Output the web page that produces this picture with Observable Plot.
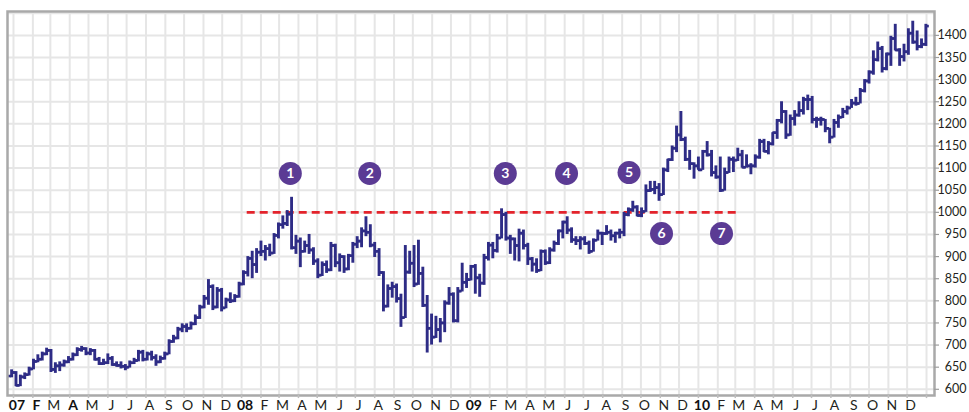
<!DOCTYPE html>
<html>
<head>
<meta charset="utf-8">
<script src="https://cdn.jsdelivr.net/npm/d3@7"></script>
<script src="https://cdn.jsdelivr.net/npm/@observablehq/plot@0.6"></script>
<style>
  html, body { margin: 0; padding: 0; background: #ffffff; }
  svg { display: block; }
</style>
</head>
<body>
<div id="chart"></div>
<script>
// ---- Data: weekly bars, week ending Friday, first week ending 2006-12-29 ----
const firstWeekEnding = "2006-12-29";

const open = [
  630,
  638,609,628,633,646,663,668,680,688,645,653,655,662,668,678,690,692,682,688,668,658,660,670,656,654,652,650,660,665,684,668,680,672,662,670,680,708,716,736,742,738,748,762,786,806,832,786,824,784,802,800,810,
  838,864,896,882,910,912,918,908,948,972,975,996,920,935,912,925,915,890,858,882,870,925,886,900,872,902,928,935,958,955,926,912,864,788,828,832,805,762,865,885,838,862,790,738,718,735,750,795,815,755,822,842,
  848,878,852,840,898,926,914,942,995,942,940,925,953,925,895,883,869,912,886,915,930,958,978,960,938,936,940,930,912,937,953,952,955,947,953,955,995,1006,1012,993,1002,1049,1052,1056,1040,1096,1119,1145,1175,1165,1120,1110,
  1105,1096,1138,1130,1090,1080,1050,1090,1120,1118,1130,1102,1105,1105,1125,1160,1138,1155,1180,1208,1228,1175,1212,1220,1230,1255,1255,1210,1210,1210,1190,1170,1203,1215,1228,1236,1247,1246,1275,1297,1317,1345,1370,1325,1358,1393,1367,1352,1363,1405,1385,1375,1380
];
const high = [
  644,
  640,632,637,650,668,678,684,693,690,660,662,666,674,682,694,697,694,692,690,672,668,680,674,662,662,656,664,670,688,688,684,686,678,675,684,712,722,740,748,748,752,768,790,812,848,836,830,828,806,818,814,842,
  868,900,912,918,935,925,928,952,976,992,1004,1034,948,942,935,950,920,895,888,890,932,928,906,902,905,932,945,965,990,972,932,918,866,836,842,838,815,925,912,925,937,876,812,770,765,760,800,830,818,830,885,862,
  880,882,860,905,932,932,950,1008,1000,948,942,962,960,930,898,895,915,915,920,935,960,980,990,965,945,945,945,935,940,960,955,970,960,955,962,1000,1010,1025,1015,1010,1062,1070,1070,1065,1100,1120,1150,1195,1228,1170,1140,1112,
  1125,1140,1160,1140,1105,1125,1100,1125,1125,1145,1140,1130,1110,1130,1165,1165,1160,1180,1210,1250,1230,1220,1230,1250,1260,1265,1262,1215,1215,1210,1190,1210,1220,1235,1240,1255,1260,1280,1300,1320,1365,1385,1375,1360,1398,1425,1370,1380,1415,1432,1410,1392,1425
];
const low = [
  626,
  606,606,622,630,644,660,664,676,638,636,640,650,658,664,674,684,676,676,664,654,654,656,652,650,646,642,648,656,662,662,664,664,652,658,666,678,704,712,728,728,734,744,758,782,790,778,782,775,782,794,796,806,
  834,854,850,862,900,890,900,905,940,962,968,915,905,875,908,905,880,850,855,862,866,875,865,862,868,885,918,920,945,920,898,855,775,784,806,795,740,760,860,830,835,785,682,700,715,705,728,790,750,750,820,828,
  845,815,808,835,890,895,908,940,935,905,890,888,915,880,865,862,866,880,882,910,925,940,950,930,925,915,925,905,910,935,925,948,935,930,940,945,990,1000,990,988,1000,1045,1040,1025,1038,1090,1115,1135,1160,1115,1095,1075,
  1095,1095,1125,1080,1075,1045,1048,1088,1090,1115,1100,1100,1085,1100,1120,1135,1130,1150,1165,1200,1165,1172,1195,1215,1220,1230,1200,1190,1195,1180,1155,1168,1190,1212,1220,1235,1240,1245,1270,1290,1310,1340,1315,1320,1330,1365,1330,1340,1355,1380,1365,1370,1375
];
const close = [
  638,
  609,628,633,646,663,668,680,688,645,653,655,662,668,678,690,692,682,688,668,658,660,670,656,654,652,650,660,665,684,668,680,672,662,670,680,708,716,736,742,738,748,762,786,806,832,786,824,784,802,800,810,838,
  864,896,882,910,912,918,908,948,972,975,996,920,935,912,925,915,890,858,882,870,925,886,900,872,902,928,935,958,955,926,912,864,788,828,832,805,762,865,885,838,862,790,738,718,735,750,795,815,755,822,842,848,
  878,852,840,898,926,914,942,995,942,940,925,953,925,895,883,869,912,886,915,930,958,978,960,938,936,940,930,912,937,953,952,955,947,953,955,995,1006,1012,993,1002,1049,1052,1056,1040,1096,1119,1145,1175,1165,1120,1110,1105,
  1096,1138,1130,1090,1080,1050,1090,1120,1118,1130,1102,1105,1105,1125,1160,1138,1155,1180,1208,1228,1175,1212,1220,1230,1255,1255,1210,1210,1210,1190,1170,1203,1215,1228,1236,1247,1246,1275,1297,1317,1345,1370,1325,1358,1393,1367,1352,1363,1405,1385,1375,1380,1421
];

// Resistance line and numbered markers
const resistanceLevel = 1000;
const resistanceFrom = "2008-01-10";
const resistanceTo = "2010-03-04";

const markerLabels = ["1", "2", "3", "4", "5", "6", "7"];
const markerDates  = ["2008-03-19", "2008-07-24", "2009-02-26", "2009-06-04", "2009-09-12", "2009-11-03", "2010-02-07"];
const markerValues = [1088, 1088, 1088, 1088, 1090, 952, 952];

// Axis tick labels
const yTickValues = [600, 650, 700, 750, 800, 850, 900, 950, 1000, 1050, 1100, 1150, 1200, 1250, 1300, 1350, 1400];
const yGridValues = [600, 650, 700, 750, 800, 850, 900, 950, 1000, 1050, 1100, 1150, 1200, 1250, 1300, 1350, 1400, 1450];
const yearLabels  = ["07", "08", "09", "10"];
const monthLabels = ["F", "M", "A", "M", "J", "J", "A", "S", "O", "N", "D"];
const boldMonthKeys = ["2007-02", "2007-04"];

// ---- Build tables ----
const DAY = 864e5;
const t0 = Date.parse(firstWeekEnding + "T00:00:00Z");
const bars = open.map((o, i) => ({
  date: new Date(t0 + i * 7 * DAY),
  open: o, high: high[i], low: low[i], close: close[i]
}));

const monthStarts = d3.utcMonth.range(new Date(Date.UTC(2007, 0, 1)), new Date(Date.UTC(2011, 0, 2)));
const monthTickLabels = monthStarts.slice(0, 48).map(d => {
  const m = d.getUTCMonth();
  const key = d3.utcFormat("%Y-%m")(d);
  const isYear = m === 0;
  const label = isYear ? yearLabels[d.getUTCFullYear() - 2007] : monthLabels[m - 1];
  return {date: d, label, bold: isYear || boldMonthKeys.includes(key)};
});

const markers = markerLabels.map((l, i) => ({
  label: l, date: new Date(markerDates[i] + "T00:00:00Z"), value: markerValues[i]
}));

const xDomain = [new Date(Date.UTC(2006, 11, 22, 10)), new Date(Date.UTC(2011, 0, 13, 19))];
const yDomain = [586, 1454];

const navy = "#2e2c86";
const gridColor = "#e6e6e6";
const frameColor = "#a9a9a9";
const textColor = "#231f20";
const tickDays = 5.5;
const fontFamily = "Lato, 'Open Sans', 'DejaVu Sans', sans-serif";

const chart = Plot.plot({
  width: 969,
  height: 412,
  marginLeft: 7,
  marginRight: 35,
  marginTop: 11,
  marginBottom: 17,
  style: {fontFamily, background: "#ffffff", overflow: "visible"},
  x: {type: "utc", domain: xDomain, axis: null},
  y: {domain: yDomain, axis: null},
  marks: [
    // grid
    Plot.ruleX(monthStarts, {x: d => d, stroke: gridColor, strokeWidth: 2}),
    Plot.ruleY(yGridValues, {y: d => d, stroke: gridColor, strokeWidth: 2}),
    // resistance line
    Plot.ruleY([resistanceLevel], {
      y: d => d,
      x1: () => new Date(resistanceFrom + "T00:00:00Z"),
      x2: () => new Date(resistanceTo + "T00:00:00Z"),
      stroke: "#e3232b", strokeWidth: 2.6, strokeDasharray: "8,5"
    }),
    // OHLC bars
    Plot.ruleX(bars, {x: "date", y1: "low", y2: "high", stroke: navy, strokeWidth: 2.9}),
    Plot.ruleY(bars, {y: "open", x1: d => new Date(+d.date - tickDays * DAY), x2: "date", stroke: navy, strokeWidth: 2.6}),
    Plot.ruleY(bars, {y: "close", x1: "date", x2: d => new Date(+d.date + tickDays * DAY), stroke: navy, strokeWidth: 2.6}),
    // frame
    Plot.frame({stroke: frameColor, strokeWidth: 2.5}),
    // small ticks outside frame
    Plot.ruleX(monthStarts.slice(0, 49), {x: d => d, y1: yDomain[0], y2: yDomain[0] - 7, stroke: "#bdbdbd", strokeWidth: 1.5}),
    Plot.ruleY(yTickValues, {y: d => d, x1: () => xDomain[1], x2: () => new Date(+xDomain[1] + 8 * DAY), stroke: "#9d9d9d", strokeWidth: 1.2}),
    // x labels
    Plot.text(monthTickLabels.filter(d => !d.bold), {
      x: "date", text: "label", frameAnchor: "bottom", dy: 10, dx: 3.5,
      lineAnchor: "middle", fontSize: 14, fill: textColor, fontFamily
    }),
    Plot.text(monthTickLabels.filter(d => d.bold), {
      x: "date", text: "label", frameAnchor: "bottom", dy: 10, dx: 3.5,
      lineAnchor: "middle", fontSize: 14, fontWeight: "bold", fill: "#111111", fontFamily
    }),
    // y labels
    Plot.text(yTickValues, {
      y: d => d, text: d => String(d), frameAnchor: "right", dx: 32,
      textAnchor: "end", fontSize: 12.5, fill: textColor, fontFamily
    }),
    // numbered markers
    Plot.dot(markers, {x: "date", y: "value", r: 11.5, fill: "#5b3b94", stroke: "none"}),
    Plot.text(markers, {x: "date", y: "value", text: "label", fill: "#ffffff", fontSize: 14, fontWeight: "bold", fontFamily})
  ]
});

document.getElementById("chart").appendChild(chart);
</script>
</body>
</html>
